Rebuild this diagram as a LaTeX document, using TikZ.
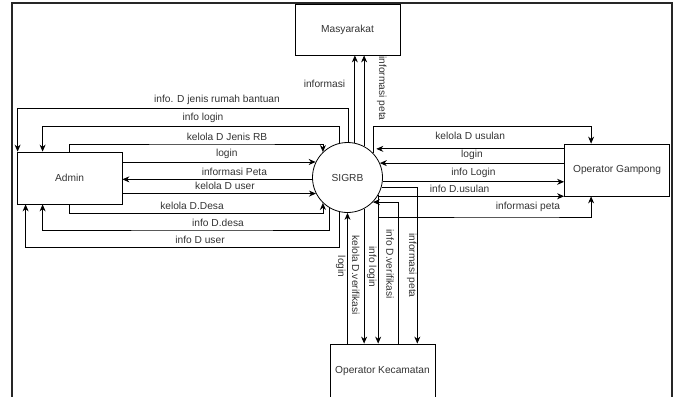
\documentclass[tikz,border=0pt]{standalone}
\usepackage{fontspec}
\setmainfont{Liberation Sans}
\usetikzlibrary{arrows.meta, calc}

\begin{document}
\begin{tikzpicture}[x=1pt, y=-1pt, >={Stealth[length=7pt,width=6pt]},
	entity/.style={draw, line width=0.8pt, minimum width=105pt, minimum height=52pt, inner sep=0pt, font=\fontsize{10.2}{12}\selectfont, text=black!80},
	process/.style={draw, circle, line width=0.8pt, minimum size=70pt, inner sep=0pt, font=\fontsize{10.2}{12}\selectfont, text=black!80},
	flow/.style={->, line width=0.8pt},
	lbl/.style={font=\fontsize{10.2}{12}\selectfont, text=black!80}]

	% page and frame
	\clip (0,0) rectangle (679,396);
	\draw[line width=1.6pt, black!85] (12,400) -- (12,3) -- (672,3) -- (672,400);

	% the process and the entities
	\node[process] (sigrb) at (347.5,177.5) {SIGRB};
	\node[entity, minimum height=51pt] (masyarakat) at (347.5,29.5) {Masyarakat};
	\node[entity] (admin) at (69.5,178) {Admin};
	\node[entity] (gampong) at (617,170) {Operator Gampong};
	\node[entity, minimum height=54pt] (kecamatan) at (382.5,371) {Operator Kecamatan};

	% Masyarakat
	\draw[flow] (sigrb.78) -- node[lbl, pos=0.68, left=6pt] {informasi} (sigrb.78 |- masyarakat.south);
	\draw[flow] (sigrb.62) -- (sigrb.62 |- masyarakat.south);
	\node[lbl, rotate=-90] (lblpetam) at (381.7,88.5) {informasi peta};

	% Admin, upper loops
	\draw[flow] (sigrb.89) |- (217,108.3) node[lbl, above] {info. D jenis rumah bantuan} -| ([xshift=1pt]admin.north west);
	\draw[flow] (sigrb.104) |- (203,126.7) node[lbl, above] {info login} -| ([xshift=26pt]admin.north west);
	\draw[flow] (admin.north) |- (227,144) node[lbl, above] {kelola D Jenis RB} -| (sigrb.134);

	% Admin, straight flows
	\draw[flow] (admin.east |- sigrb.154) -- node[lbl, pos=0.54, above] {login} (sigrb.154);
	\draw[flow] (sigrb.183) -- node[lbl, pos=0.41, above] {informasi Peta} (sigrb.183 -| admin.east);
	\draw[flow] (admin.east |- sigrb.207) -- node[lbl, pos=0.53, above] {kelola D user} (sigrb.207);

	% Admin, lower loops
	\draw[flow] (admin.south) |- (192,213.3) node[lbl, above] {kelola D.Desa} -| (sigrb.226);
	\draw[flow] (sigrb.240) |- (218,230) node[lbl, above] {info D.desa} -| ([xshift=26pt]admin.south west);
	\draw[flow] (sigrb.256) |- (200,247.7) node[lbl, above] {info D user} -| ([xshift=9pt]admin.south west);

	% Operator Gampong
	\draw[flow] (sigrb.43) |- (480,126.7) -| ([xshift=27pt]gampong.north west);
	\draw[flow] (gampong.west |- sigrb.54) -- node[lbl, pos=0.5, above=6pt] {kelola D usulan} ([xshift=8pt]sigrb.54);
	\draw[flow] (gampong.west |- sigrb.24) -- node[lbl, pos=0.5, above] {login} (sigrb.24);
	\draw[flow] (sigrb.353) -- node[lbl, pos=0.5, above] {info Login} (sigrb.353 -| gampong.west);
	\draw[flow] (sigrb.328) -- node[lbl, pos=0.44, above] {info D.usulan} (sigrb.328 -| gampong.west);
	\draw[flow] (sigrb.330) |- (528,217) node[lbl, above=2pt] {informasi peta} -| ([xshift=27pt]gampong.south west);

	% Operator Kecamatan
	\draw[flow] (sigrb.south |- kecamatan.north) -- (sigrb.south);
	\draw[flow] (sigrb.298) -- (sigrb.298 |- kecamatan.north);
	\draw[flow] (sigrb.330) -- (sigrb.330 |- kecamatan.north);
	\draw[flow] ([xshift=69pt]kecamatan.north west) |- (sigrb.316);
	\draw[flow] (sigrb.344) -| ([xshift=87.7pt]kecamatan.north west);
	\node[lbl, rotate=-90] (lbllogin) at (340.7,266.7) {login};
	\node[lbl, rotate=-90] (lblkelola) at (355.7,275) {kelola D.verifikasi};
	\node[lbl, rotate=-90] (lblinfologin) at (371.7,267) {info login};
	\node[lbl, rotate=-90] (lblverif) at (390,264) {info D.verifikasi};
	\node[lbl, rotate=-90] (lblpetak) at (411.7,265.5) {informasi peta};

\end{tikzpicture}
\end{document}
